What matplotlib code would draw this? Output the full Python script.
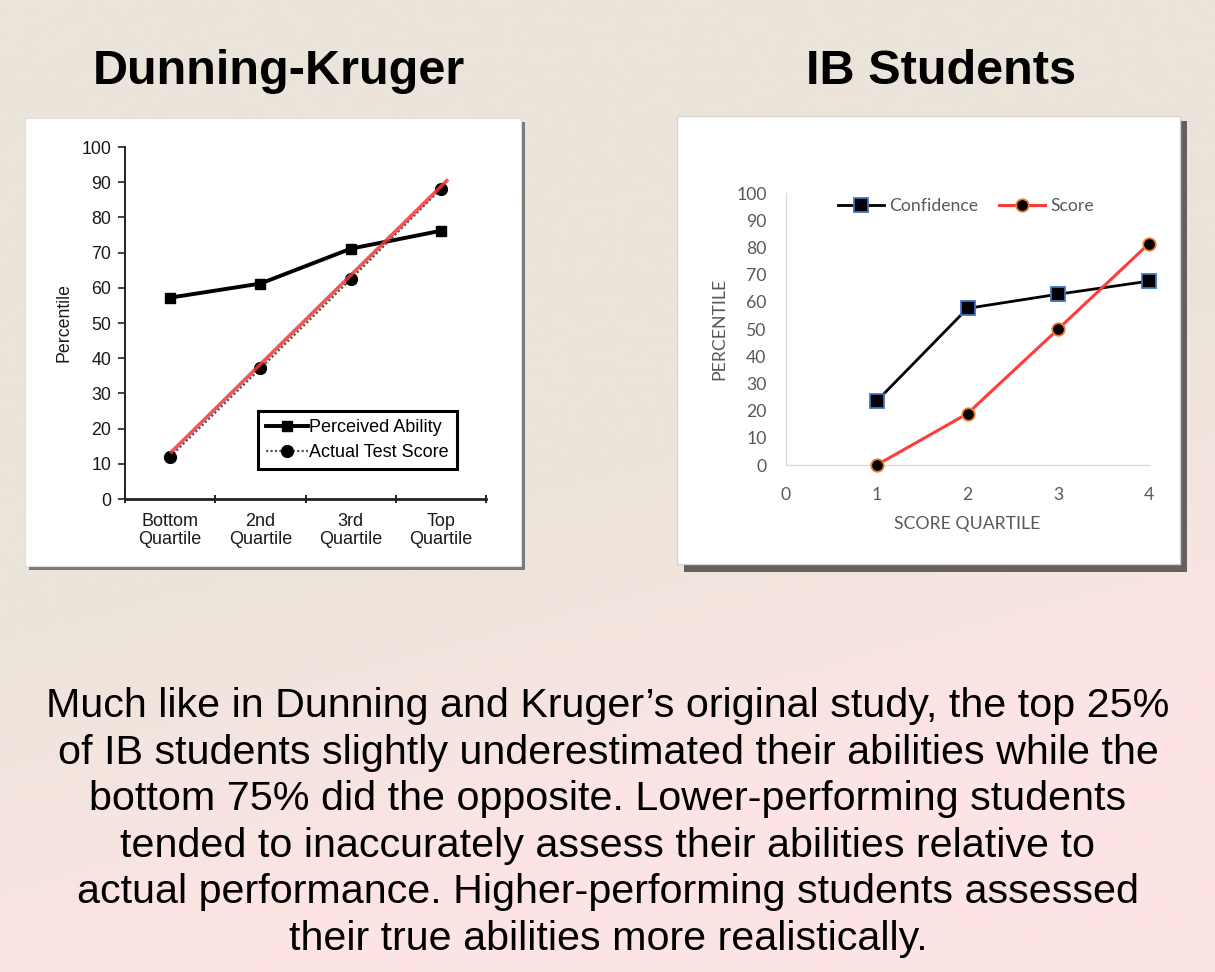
import numpy as np
import matplotlib
matplotlib.use("Agg")
import matplotlib.pyplot as plt
from matplotlib.patches import Rectangle

# ---------------- data ----------------
dk_categories = ["Bottom\nQuartile", "2nd\nQuartile", "3rd\nQuartile", "Top\nQuartile"]
dk_perceived = [57.2, 61.2, 71.1, 76.2]
dk_actual = [12.0, 37.1, 62.4, 88.1]
dk_trend_x = [0.0, 3.08]
dk_trend_y = [13.0, 90.8]

ib_quartiles = [1, 2, 3, 4]
ib_confidence = [23.5, 57.6, 62.8, 67.6]
ib_score = [0.0, 18.9, 50.0, 81.4]

y_ticks = list(range(0, 101, 10))
ib_x_ticks = [0, 1, 2, 3, 4]

titles = ["Dunning-Kruger", "IB Students"]
body_lines = [
    "Much like in Dunning and Kruger\u2019s original study, the top 25%",
    "of IB students slightly underestimated their abilities while the",
    "bottom 75% did the opposite. Lower-performing students",
    "tended to inaccurately assess their abilities relative to",
    "actual performance. Higher-performing students assessed",
    "their true abilities more realistically.",
]

# ---------------- figure ----------------
W, H = 1215, 972
fig = plt.figure(figsize=(W / 100, H / 100), dpi=100)

bg = fig.add_axes([0, 0, 1, 1])
bg.set_xlim(0, W)
bg.set_ylim(H, 0)
bg.axis("off")

yy, xx = np.mgrid[0:H:2, 0:W:2]
s = 0.275 * xx + yy
t = np.clip((s - 620) / 380.0, 0, 1)
c0 = np.array([235, 228, 218]) / 255.0
c1 = np.array([253, 228, 228]) / 255.0
img = c0[None, None, :] * (1 - t[..., None]) + c1[None, None, :] * t[..., None]
bg.imshow(img, extent=(0, W, H, 0), aspect="auto", interpolation="bilinear", zorder=0)

# panel boxes with shadows
bg.add_patch(Rectangle((29, 122), 496, 448, facecolor="#7a7a7a", edgecolor="none", zorder=1))
bg.add_patch(Rectangle((25, 118), 496, 448, facecolor="white", edgecolor="#e0e0e0", lw=0.8, zorder=2))
bg.add_patch(Rectangle((684, 121), 503, 451, facecolor="#666060", edgecolor="none", zorder=1))
bg.add_patch(Rectangle((677, 116), 503, 448, facecolor="white", edgecolor="#d4d4d4", lw=1.0, zorder=2))

# titles
bg.text(279, 84, titles[0], ha="center", va="baseline", fontsize=35,
        fontweight="bold", family="Liberation Sans", color="black", zorder=3)
bg.text(941, 84, titles[1], ha="center", va="baseline", fontsize=35,
        fontweight="bold", family="Liberation Sans", color="black", zorder=3)

# body text
for i, line in enumerate(body_lines):
    bg.text(608, 717 + 46.6 * i, line, ha="center", va="baseline", fontsize=29.7,
            family="Liberation Sans", color="black", zorder=3)


def px_axes(x0, y0, x1, y1):
    return fig.add_axes([x0 / W, 1 - y1 / H, (x1 - x0) / W, (y1 - y0) / H])


# ---------------- left: Dunning-Kruger ----------------
axL = px_axes(125, 147, 486, 499)
axL.patch.set_alpha(0)
xs = np.arange(len(dk_categories))
axL.set_xlim(-0.5, len(dk_categories) - 0.5)
axL.set_ylim(0, 100)
for sp in ["top", "right"]:
    axL.spines[sp].set_visible(False)
axL.spines["left"].set_linewidth(1.4)
axL.spines["bottom"].set_linewidth(2.0)
axL.spines["left"].set_color("#222222")
axL.spines["bottom"].set_color("#222222")

axL.plot(xs, dk_perceived, color="black", lw=2.8, marker="s", ms=7.5,
         label="Perceived Ability", zorder=3)
axL.plot(xs, dk_actual, color="#555555", lw=1.6, ls=(0, (1, 1)), marker="o", ms=8.5,
         mfc="black", mec="black", label="Actual Test Score", zorder=3)
axL.plot(dk_trend_x, dk_trend_y, color="#ee3b3b", lw=2.6, alpha=0.85,
         solid_capstyle="butt", zorder=4)

axL.set_yticks(y_ticks)
axL.set_yticklabels([str(v) for v in y_ticks])
axL.set_xticks(xs)
axL.set_xticklabels(dk_categories)
axL.set_xticks(np.arange(-0.5, len(dk_categories)), minor=True)
axL.tick_params(axis="x", which="major", length=0, pad=10, labelsize=13, labelcolor="#1a1a1a")
axL.tick_params(axis="x", which="minor", length=6, direction="inout", width=1.4, color="#222222")
axL.tick_params(axis="y", which="major", length=5, width=1.2, pad=5, labelsize=12.8,
                labelcolor="#1a1a1a", color="#222222")
for lbl in axL.get_xticklabels() + axL.get_yticklabels():
    lbl.set_family("Liberation Sans")
for lbl in axL.get_xticklabels():
    lbl.set_linespacing(1.1)
axL.set_ylabel("Percentile", fontsize=12.8, family="Liberation Sans", color="#1a1a1a", labelpad=6)

legL = axL.legend(loc="lower right", bbox_to_anchor=(0.92, 0.085), borderaxespad=0,
                  fancybox=False, edgecolor="black", framealpha=1,
                  handlelength=2.3, handletextpad=0.1, labelspacing=0.45, borderpad=0.45,
                  prop={"family": "Liberation Sans", "size": 13})
legL.get_frame().set_linewidth(2.2)

# ---------------- right: IB Students ----------------
axR = px_axes(786, 193, 1149, 465)
axR.patch.set_alpha(0)
axR.set_xlim(0, 4)
axR.set_ylim(0, 100)
for sp in ["top", "right"]:
    axR.spines[sp].set_visible(False)
axR.spines["left"].set_color("#d9d9d9")
axR.spines["bottom"].set_color("#d9d9d9")
axR.spines["left"].set_linewidth(1.0)
axR.spines["bottom"].set_linewidth(1.0)

axR.plot(ib_quartiles, ib_confidence, color="black", lw=2.0, marker="s", ms=9.8,
         mfc="black", mec="#4472c4", mew=1.3, label="Confidence", zorder=3, clip_on=False)
axR.plot(ib_quartiles, ib_score, color="#ff3b3b", lw=2.2, marker="o", ms=9.0,
         mfc="black", mec="#ed7d31", mew=1.3, label="Score", zorder=3, clip_on=False)

axR.set_yticks(y_ticks)
axR.set_xticks(ib_x_ticks)
axR.tick_params(axis="both", length=0, labelsize=12.7, labelcolor="#595959")
axR.tick_params(axis="y", pad=14)
axR.tick_params(axis="x", pad=16)
for lbl in axR.get_xticklabels() + axR.get_yticklabels():
    lbl.set_family("Lato")
axR.set_ylabel("PERCENTILE", fontsize=12.7, family="Lato", color="#595959", labelpad=6)
axR.set_xlabel("SCORE QUARTILE", fontsize=12.7, family="Lato", color="#595959", labelpad=9)

legR = axR.legend(loc="center", bbox_to_anchor=(0.496, 0.952), ncol=2, frameon=False,
                  handlelength=2.6, handletextpad=0.3, columnspacing=1.2,
                  prop={"family": "Lato", "size": 12.7})
for txt in legR.get_texts():
    txt.set_color("#595959")

fig.savefig("out.png", dpi=100)
